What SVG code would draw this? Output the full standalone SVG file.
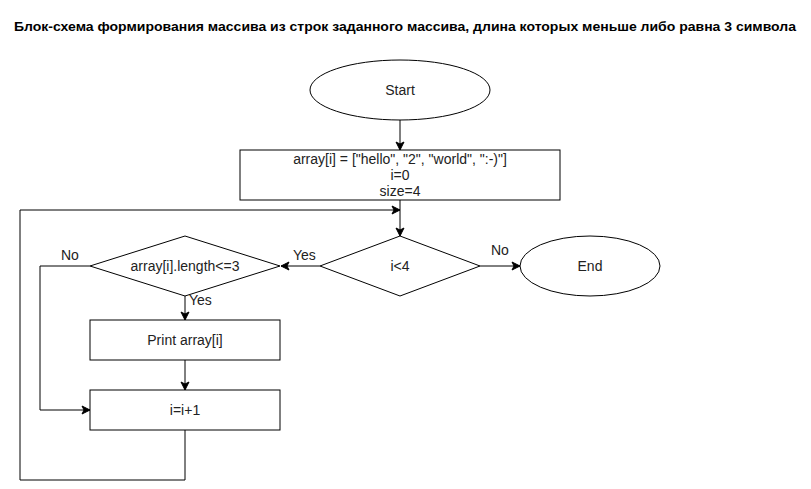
<svg xmlns="http://www.w3.org/2000/svg" width="811" height="489" viewBox="0 0 811 489">
<defs>
<marker id="ah" markerWidth="10" markerHeight="10" refX="9" refY="5" orient="auto" markerUnits="userSpaceOnUse">
<path d="M1,1 L9,5 L1,9 L3,5 Z" fill="#000" stroke="#000" stroke-width="1"/>
</marker>
</defs>
<style>
.s{fill:#fff;stroke:#000;stroke-width:1}
.t{font-family:"Liberation Sans",Arial,sans-serif;font-size:14px;fill:#222;text-anchor:middle;dominant-baseline:central}
.l{font-family:"Liberation Sans",Arial,sans-serif;font-size:14px;fill:#222}
.c{fill:none;stroke:#000;stroke-width:1}
.title{font-family:"Liberation Sans",Arial,sans-serif;font-size:13px;font-weight:bold;fill:#000}
</style>
<rect width="811" height="489" fill="#fff"/>
<text class="title" x="14" y="31" textLength="782" lengthAdjust="spacingAndGlyphs">Блок-схема формирования массива из строк заданного массива, длина которых меньше либо равна 3 символа</text>
<g id="connectors">
<path class="c" d="M400,120 V150" marker-end="url(#ah)"/>
<path class="c" d="M400,200 V236" marker-end="url(#ah)"/>
<path class="c" d="M480,266 H520" marker-end="url(#ah)"/>
<path class="c" d="M320,266 H281" marker-end="url(#ah)"/>
<path class="c" d="M90,266 H40 V410 H90" marker-end="url(#ah)"/>
<path class="c" d="M185,296 V320" marker-end="url(#ah)"/>
<path class="c" d="M185,360 V390" marker-end="url(#ah)"/>
<path class="c" d="M185,430 V480 H20 V210 H400" marker-end="url(#ah)"/>
<text class="l" x="491" y="255">No</text>
<text class="l" x="293" y="260">Yes</text>
<text class="l" x="61" y="260">No</text>
<text class="l" x="189" y="305">Yes</text>
</g>
<g id="start">
<ellipse class="s" cx="400" cy="90" rx="90" ry="30"/>
<text class="t" x="400" y="90">Start</text>
</g>
<g id="init">
<rect class="s" x="240" y="150" width="320" height="50"/>
<text class="t" x="400" y="159">array[i] = ["hello", "2", "world", ":-)"]</text>
<text class="t" x="400" y="175">i=0</text>
<text class="t" x="400" y="191">size=4</text>
</g>
<g id="cond-i">
<path class="s" d="M400,236 L480,266 L400,296 L320,266 Z"/>
<text class="t" x="400" y="266">i&lt;4</text>
</g>
<g id="end">
<ellipse class="s" cx="590" cy="266" rx="70" ry="30"/>
<text class="t" x="590" y="266">End</text>
</g>
<g id="cond-len">
<path class="s" d="M185,236 L280,266 L185,296 L90,266 Z"/>
<text class="t" x="185" y="266">array[i].length&lt;=3</text>
</g>
<g id="print">
<rect class="s" x="90" y="320" width="190" height="40"/>
<text class="t" x="185" y="340">Print array[i]</text>
</g>
<g id="inc">
<rect class="s" x="90" y="390" width="190" height="40"/>
<text class="t" x="185" y="410">i=i+1</text>
</g>
</svg>
